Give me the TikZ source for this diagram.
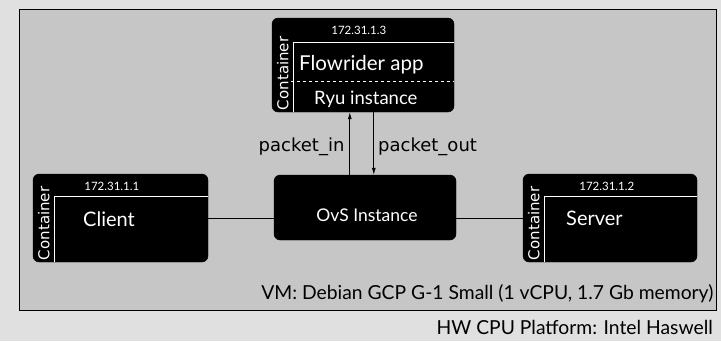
\documentclass[tikz,border=0pt]{standalone}
\usepackage{fontspec}
\setmainfont{Lato}
\newfontfamily\dvsans{DejaVu Sans}
\usetikzlibrary{positioning, calc, arrows.meta}
\definecolor{hwgray}{RGB}{224,224,224}
\definecolor{vmgray}{RGB}{198,198,198}

\tikzset{
  box/.style={draw=black, fill=black, rounded corners=6pt, text=white, inner sep=0pt},
  ctrtag/.style={text=white, rotate=90, anchor=west, inner sep=0pt, font=\dvsans\fontsize{15}{15}\selectfont},
  iptag/.style={text=white, inner sep=0pt, font=\fontsize{11.5}{11.5}\selectfont},
  big/.style={text=white, anchor=west, inner sep=0pt, font=\fontsize{19.5}{19.5}\selectfont},
  sep/.style={white, line width=0.8pt},
  msg/.style={inner sep=0pt, font=\dvsans\fontsize{18}{18}\selectfont},
  arr/.style={line width=0.8pt, -{Latex[length=7pt,width=4pt]}},
  caption/.style={inner sep=0pt, font=\fontsize{19.3}{19.3}\selectfont},
}

\begin{document}
\begin{tikzpicture}[x=1pt,y=-1pt]
  \useasboundingbox[fill=hwgray] (0,0) rectangle (721,341);
  % VM
  \node[draw, line width=1pt, fill=vmgray, minimum width=697pt, minimum height=301pt, inner sep=0pt] (vm) at (367.5,159.5) {};
  \node[caption, anchor=south east] (vmtxt) at ($(vm.south east)+(-3,-7)$) {VM: Debian GCP G-1 Small (1 vCPU, 1.7 Gb memory)};
  \node[caption, anchor=east] (hwtxt) at (713,327) {HW CPU Platform: Intel Haswell};

  % container boxen
  \node[box, minimum width=175pt, minimum height=88pt] (client) at (120.5,218) {};
  \node[box, minimum width=174pt, minimum height=88pt] (server) at (610,218) {};
  \node[box, minimum width=182pt, minimum height=94pt] (flow) at (363,65) {};
  % switch
  \node[box, minimum width=182pt, minimum height=65pt] (ovs) at (365,207.5) {};
  \node[text=white, inner sep=0pt, font=\fontsize{17.5}{17.5}\selectfont] (ovstxt) at (367,215) {OvS Instance};

  % container frame, tag and address
  \foreach \n/\ip/\dx/\dy in {client/172.31.1.1/79/23, server/172.31.1.2/84/23, flow/172.31.1.3/87/25} {
    \draw[sep] ($(\n.south west)+(22,0)$) -- ($(\n.north west)+(22,\dy)$) -- ($(\n.north east)+(0,\dy)$);
    \node[ctrtag] at ($(\n.south west)+(11,-2)$) {Container};
    \node[iptag] at ($(\n.north west)+(\dx,13)$) {\ip};
  }

  % texts in the containers
  \node[big, font=\fontsize{20}{20}\selectfont] (clienttxt) at (83,219) {Client};
  \node[big, font=\fontsize{20}{20}\selectfont] (servertxt) at (566,218) {Server};
  \node[big, font=\fontsize{20.5}{20.5}\selectfont] (apptxt) at (299,65) {Flowrider app};
  \draw[sep, dashed] ($(flow.north west)+(19,64)$) -- ($(flow.north east)+(0,64)$);
  \node[big, font=\fontsize{18.5}{18.5}\selectfont] (ryutxt) at (314,99) {Ryu instance};

  % links
  \draw[line width=0.8pt] (client.east) -- (client.east -| ovs.west);
  \draw[line width=0.8pt] (server.west) -- (server.west -| ovs.east);
  \draw[arr] ($(ovs.north west)+(76,0)$) -- ($(flow.south west)+(78,0)$) node[msg, pos=0.45, left=5pt] (pin) {packet\_in};
  \draw[arr] ($(flow.south west)+(102,0)$) -- ($(ovs.north west)+(100,0)$) node[msg, pos=0.55, right=4pt] (pout) {packet\_out};
\end{tikzpicture}
\end{document}
